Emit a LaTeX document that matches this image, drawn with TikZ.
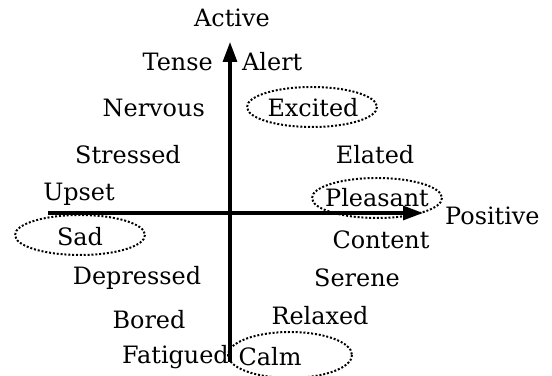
\documentclass[tikz,border=0pt]{standalone}
\usepackage{fontspec}
\setmainfont{DejaVu Serif}
\usetikzlibrary{arrows.meta}
\tikzset{
	mood/.style={font=\fontsize{20.4pt}{24pt}\selectfont, inner sep=0pt},
	ring/.style={line width=1.7pt, dash pattern=on 1.7pt off 1.6pt},
	axis/.style={line width=2.6pt, -{Triangle[length=0.6cm, width=0.42cm]}}
}
\begin{document}
\begin{tikzpicture}[x=0.03cm, y=-0.03cm]
	\useasboundingbox (0,0) rectangle (552,376);
	\node[mood] (active) at (232,18) {Active};
	\node[mood, anchor=west] (positive) at (445,216) {Positive};
	\coordinate (vbot) at (230,362);
	\coordinate (vtop) at (230,42);
	\coordinate (hleft) at (48,213);
	\coordinate (hright) at (423,213);
	\draw[axis] (vbot) -- (vtop);
	\draw[axis] (hleft) -- (hright);
	\node[mood, anchor=east] (tense) at (213,62) {Tense};
	\node[mood, anchor=west] (alert) at (242,62) {Alert};
	\node[mood, anchor=east] (nervous) at (205,108) {Nervous};
	\node[mood] (excited) at (313,108) {Excited};
	\node[mood] (stressed) at (128,155) {Stressed};
	\node[mood] (elated) at (375,155) {Elated};
	\node[mood] (upset) at (79,194) {Upset};
	\node[mood] (pleasant) at (377,198) {Pleasant};
	\node[mood] (sad) at (80,237) {Sad};
	\node[mood] (content) at (381,240) {Content};
	\node[mood] (depressed) at (137,278) {Depressed};
	\node[mood] (serene) at (357,278) {Serene};
	\node[mood] (bored) at (149,320) {Bored};
	\node[mood] (relaxed) at (320,316) {Relaxed};
	\node[mood, anchor=east] (fatigued) at (229,357) {Fatigued};
	\node[mood] (calm) at (270,357) {Calm};
	\draw[ring] (312,107) ellipse (65 and 20);
	\draw[ring] (377,198) ellipse (65 and 20);
	\draw[ring] (80,235) ellipse (65 and 20);
	\draw[ring] (290,355) ellipse (62 and 23);
\end{tikzpicture}
\end{document}
